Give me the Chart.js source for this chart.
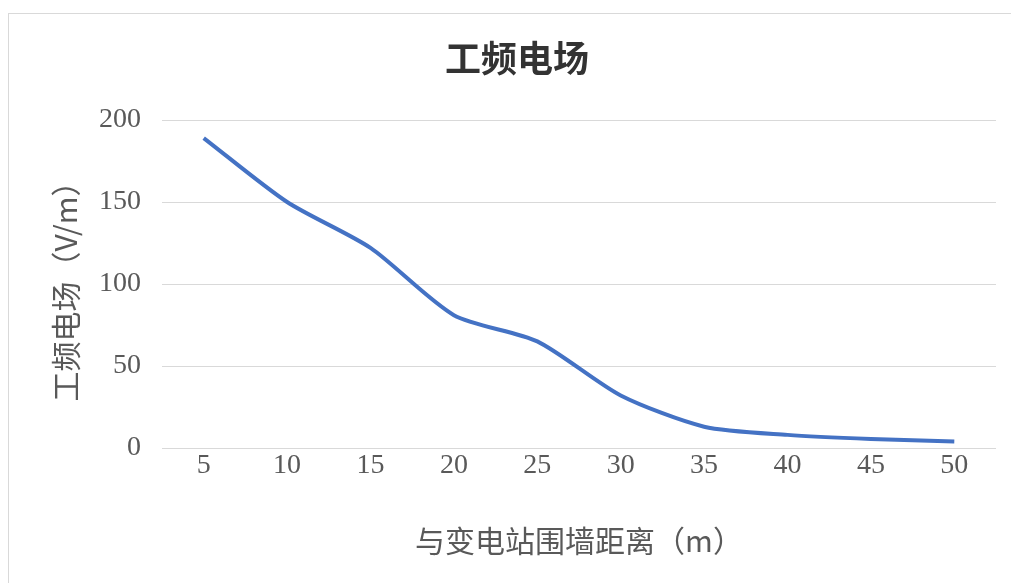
<!DOCTYPE html>
<html>
<head>
<meta charset="utf-8">
<script src="https://cdn.jsdelivr.net/npm/chart.js@4"></script>
<style>
  html, body { margin: 0; padding: 0; background: #fff; overflow: hidden; }
  #box {
    position: absolute; left: 8px; top: 13px;
    width: 1010px; height: 580px;
    border: 1px solid #d9d9d9; background: #fff;
  }
  canvas { position: absolute; left: 0; top: 0; }
</style>
</head>
<body>
<div id="box"><canvas id="chart" width="1003" height="570"></canvas></div>
<script>
// distance from the substation wall (m)
const distances = ['5', '10', '15', '20', '25', '30', '35', '40', '45', '50'];
// power-frequency electric field (V/m)
const fieldValues = [189, 150, 122, 81, 65, 32, 13, 8, 5.5, 4];
const yTicks = [0, 50, 100, 150, 200];

const textColor = '#595959';
const gridColor = '#d9d9d9';
const serif = "'Liberation Serif', 'Times New Roman', serif";
const cjk = "'Noto Sans CJK SC', sans-serif";

const ctx = document.getElementById('chart').getContext('2d');
new Chart(ctx, {
    type: 'line',
    data: {
        labels: distances,
        datasets: [{
            label: '工频电场',
            data: fieldValues,
            borderColor: '#4472C4',
            borderWidth: 4,
            pointRadius: 0,
            tension: 0.25,
            fill: false
        }]
    },
    options: {
        responsive: false,
        animation: false,
        // left padding nudges the title centre to where Excel put it
        layout: { padding: { left: 29, right: 16, top: 0, bottom: 0 } },
        plugins: {
            legend: { display: false },
            tooltip: { enabled: false },
            title: {
                display: true,
                text: '工频电场',
                color: '#333333',
                font: { family: cjk, size: 36, weight: 'bold', lineHeight: 1.0 },
                padding: { top: 26, bottom: 44 }
            }
        },
        scales: {
            x: {
                offset: true,
                grid: { display: false },
                border: { display: false },
                ticks: { color: textColor, font: { family: serif, size: 28, lineHeight: 1.0 }, padding: -4 },
                title: {
                    display: true,
                    text: '与变电站围墙距离（m）',
                    color: textColor,
                    font: { family: cjk, size: 30, lineHeight: 1.2 },
                    padding: { top: 0, bottom: 25 }
                },
                afterFit: (scale) => { scale.height = 136; }
            },
            y: {
                min: 0,
                max: 200,
                afterBuildTicks: (scale) => { scale.ticks = yTicks.map(v => ({ value: v })); },
                grid: { color: gridColor, lineWidth: 1, drawTicks: false },
                border: { display: false },
                ticks: { color: textColor, font: { family: serif, size: 28 }, padding: 21 },
                title: {
                    display: true,
                    text: '工频电场（V/m）',
                    color: textColor,
                    font: { family: cjk, size: 30, lineHeight: 1.2 },
                    padding: { top: 10, bottom: 0 }
                },
                afterFit: (scale) => { scale.width = 124; }
            }
        }
    }
});
</script>
</body>
</html>
